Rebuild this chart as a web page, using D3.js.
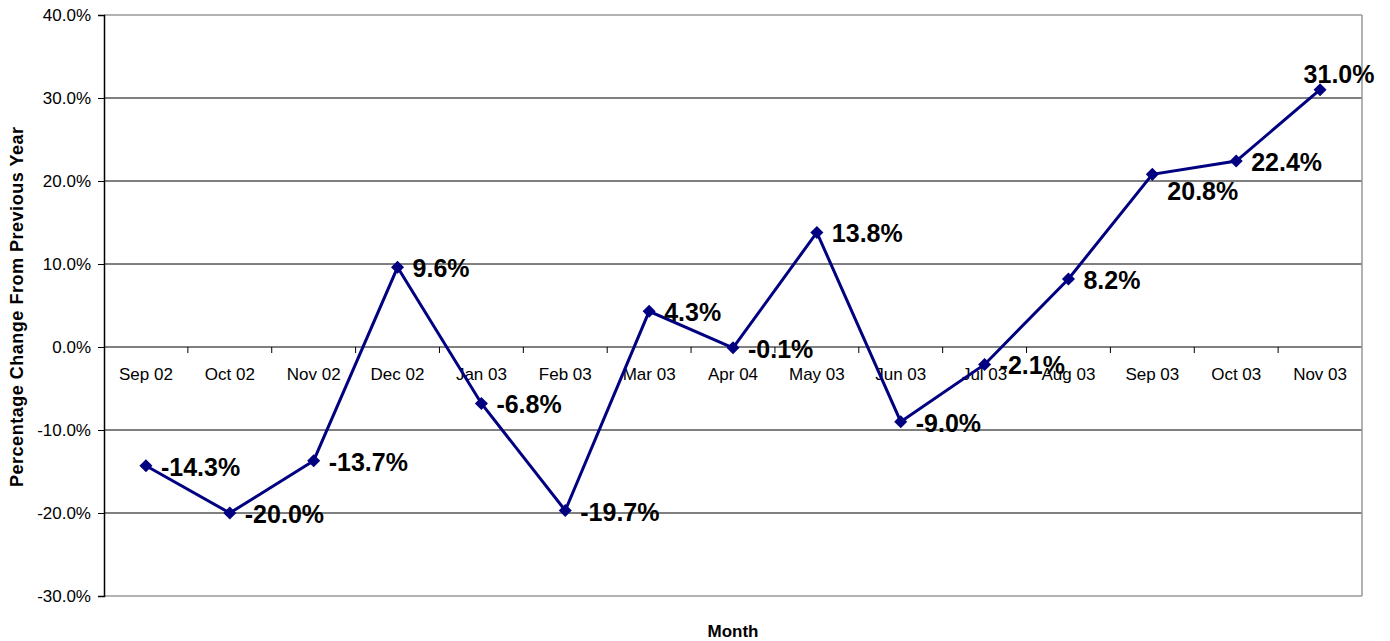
<!DOCTYPE html>
<html><head><meta charset="utf-8">
<script src="https://cdn.jsdelivr.net/npm/d3@7"></script>
<style>body{margin:0;background:#fff}svg{display:block}text{font-family:Arial,"Liberation Sans",sans-serif}</style>
</head><body>
<svg id="c" width="1390" height="641"></svg>
<script>
const categories = ["Sep 02","Oct 02","Nov 02","Dec 02","Jan 03","Feb 03","Mar 03","Apr 04","May 03","Jun 03","Jul 03","Aug 03","Sep 03","Oct 03","Nov 03"];
const values = [-14.3,-20.0,-13.7,9.6,-6.8,-19.7,4.3,-0.1,13.8,-9.0,-2.1,8.2,20.8,22.4,31.0];
const yTicks = [-30,-20,-10,0,10,20,30,40];
// label placement relative to the point: right, below-right, above
const labelPlace = ["right","right","right","right","right","right","right","right","right","right","right","right","below","right","above"];

const svg = d3.select("#c");
const L=104, R=1362, T=15, B=596;
const FONT = "Arial,'Liberation Sans',sans-serif";
const x = d3.scaleBand().domain(categories).range([L,R]).padding(0);
const y = d3.scaleLinear().domain([-30,40]).range([B,T]);
const fmt = v => v.toFixed(1)+"%";

// gridlines
svg.append("g").selectAll("line").data(yTicks.filter(d=>d>-30&&d<40)).join("line")
  .attr("x1",L).attr("x2",R).attr("y1",d=>y(d)).attr("y2",d=>y(d))
  .attr("stroke","#000").attr("stroke-width",1);
// border top/right/bottom gray
svg.append("line").attr("x1",L).attr("x2",R).attr("y1",T).attr("y2",T).attr("stroke","#999").attr("stroke-width",1.5);
svg.append("line").attr("x1",R).attr("x2",R).attr("y1",T).attr("y2",B).attr("stroke","#999").attr("stroke-width",1.5);
svg.append("line").attr("x1",L).attr("x2",R).attr("y1",B).attr("y2",B).attr("stroke","#999").attr("stroke-width",1.5);

// y axis
const ya = svg.append("g").attr("transform",`translate(${L},0)`)
  .call(d3.axisLeft(y).tickValues(yTicks).tickFormat(fmt).tickSize(6).tickPadding(7));
ya.select(".domain").attr("stroke","#000").attr("stroke-width",1.5);
ya.selectAll(".tick line").attr("stroke","#000");
ya.selectAll("text").attr("font-size",17).attr("fill","#000").style("font-family",FONT);

// x axis at zero
const xa = svg.append("g").attr("transform",`translate(0,${y(0)})`)
  .call(d3.axisBottom(x).tickSize(0).tickPadding(21));
xa.select(".domain").remove();
xa.selectAll("text").attr("font-size",17).attr("fill","#000").style("font-family",FONT);
// tick marks at category boundaries
svg.append("g").selectAll("line").data(categories.slice(1)).join("line")
  .attr("x1",d=>x(d)).attr("x2",d=>x(d)).attr("y1",y(0)).attr("y2",y(0)+6)
  .attr("stroke","#000");

// line
const cx = d=>x(d)+x.bandwidth()/2;
svg.append("path").datum(values)
  .attr("d", d3.line().x((d,i)=>cx(categories[i])).y(d=>y(d)))
  .attr("fill","none").attr("stroke","#000080").attr("stroke-width",3);
svg.append("g").selectAll("path").data(values).join("path")
  .attr("d", d3.symbol(d3.symbolSquare, 85))
  .attr("transform",(d,i)=>`translate(${cx(categories[i])},${y(d)}) rotate(45)`)
  .attr("fill","#000080");

// data labels
svg.append("g").selectAll("text").data(values).join("text")
  .each(function(d,i){
    const px = cx(categories[i]), py = y(d), p = labelPlace[i];
    const t = d3.select(this);
    if (p==="above") { t.attr("x",px+19).attr("y",py-7).attr("text-anchor","middle"); }
    else if (p==="below") { t.attr("x",px+15).attr("y",py+26); }
    else { t.attr("x",px+15).attr("y",py+10); }
  })
  .attr("font-size",25).attr("font-weight","bold").attr("fill","#000")
  .text(fmt);

// axis titles
svg.append("text").attr("x",733).attr("y",637).attr("text-anchor","middle")
  .attr("font-size",17).attr("font-weight","bold").text("Month");
svg.append("text").attr("transform","translate(23,307) rotate(-90)").attr("text-anchor","middle")
  .attr("font-size",18).attr("font-weight","bold")
  .attr("textLength",360).attr("lengthAdjust","spacing")
  .text("Percentage Change From Previous Year");
</script>
</body></html>
